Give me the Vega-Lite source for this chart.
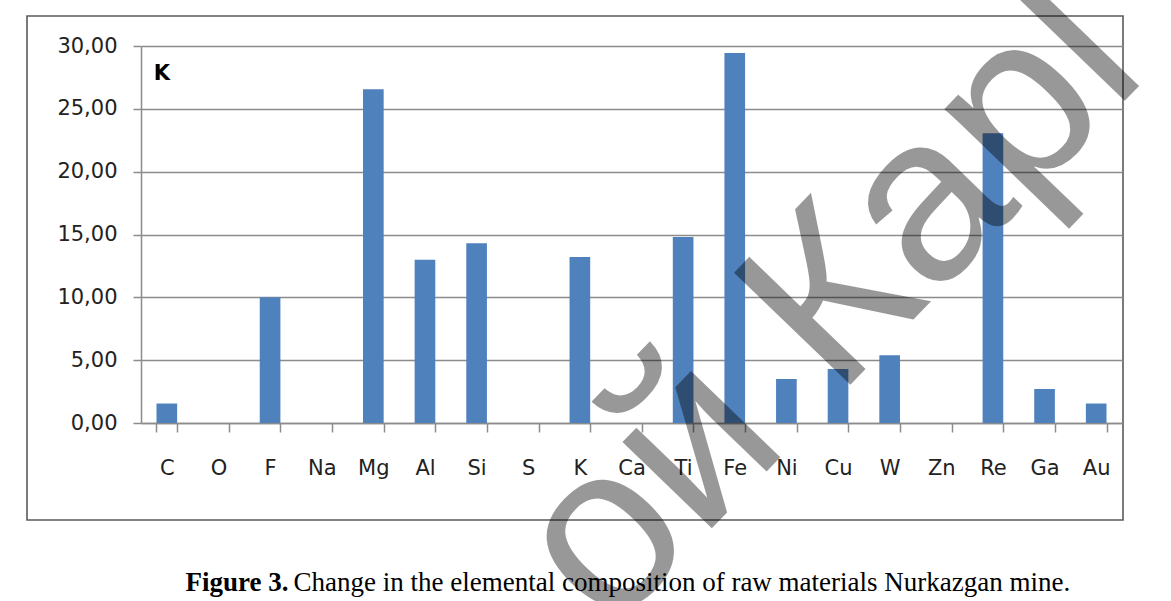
{
  "$schema": "https://vega.github.io/schema/vega-lite/v6.json",
  "width": 1096,
  "height": 504,
  "autosize": {"type": "none"},
  "padding": {"left": 27, "top": 16, "right": 48, "bottom": 81},
  "background": "white",
  "config": {"view": {"stroke": "#5a5a5a", "strokeWidth": 1.6}},
  "layer": [
    {
      "data": {
        "values": [
          {"el": "C", "v": 1.55},
          {"el": "O", "v": 0},
          {"el": "F", "v": 10.0},
          {"el": "Na", "v": 0},
          {"el": "Mg", "v": 26.55},
          {"el": "Al", "v": 13.0},
          {"el": "Si", "v": 14.3},
          {"el": "S", "v": 0},
          {"el": "K", "v": 13.2},
          {"el": "Ca", "v": 0},
          {"el": "Ti", "v": 14.8},
          {"el": "Fe", "v": 29.45},
          {"el": "Ni", "v": 3.5},
          {"el": "Cu", "v": 4.3},
          {"el": "W", "v": 5.4},
          {"el": "Zn", "v": 0},
          {"el": "Re", "v": 23.05},
          {"el": "Ga", "v": 2.7},
          {"el": "Au", "v": 1.55}
        ]
      },
      "mark": {"type": "bar", "color": "#4F81BD"},
      "encoding": {
        "x": {
          "field": "el",
          "type": "nominal",
          "sort": null,
          "scale": {
            "domain": ["C", "O", "F", "Na", "Mg", "Al", "Si", "S", "K", "Ca", "Ti", "Fe", "Ni", "Cu", "W", "Zn", "Re", "Ga", "Au"],
            "range": [114, 1095],
            "paddingInner": 0.6,
            "paddingOuter": 0.3
          },
          "axis": {
            "orient": "bottom",
            "offset": -97,
            "domain": true,
            "domainColor": "#8c8c8c",
            "domainWidth": 1.5,
            "ticks": true,
            "tickBand": "extent",
            "tickSize": 9,
            "tickColor": "#8c8c8c",
            "tickWidth": 1.5,
            "grid": false,
            "labelAngle": 0,
            "labelFont": "DejaVu Sans",
            "labelFontSize": 21,
            "labelColor": "#222222",
            "labelBaseline": "alphabetic",
            "labelPadding": 42,
            "title": "Change in the elemental composition of raw materials Nurkazgan mine.",
            "titleFont": "Liberation Serif",
            "titleFontSize": 27,
            "titleFontWeight": "normal",
            "titleColor": "#000000",
            "titleAlign": "left",
            "titleBaseline": "alphabetic",
            "titleX": 266,
            "titleY": 167
          }
        },
        "y": {
          "field": "v",
          "type": "quantitative",
          "scale": {"domain": [0, 30], "range": [407, 30], "nice": false},
          "axis": {
            "orient": "left",
            "offset": -114,
            "values": [0, 5, 10, 15, 20, 25, 30],
            "domain": true,
            "domainColor": "#8c8c8c",
            "domainWidth": 1.5,
            "ticks": true,
            "tickSize": 8,
            "tickColor": "#8c8c8c",
            "tickWidth": 1.5,
            "grid": true,
            "gridColor": "#8c8c8c",
            "gridWidth": 1.5,
            "labelFont": "DejaVu Sans",
            "labelFontSize": 21,
            "labelColor": "#222222",
            "labelPadding": 16,
            "labelExpr": "replace(format(datum.value, '.2f'), '.', ',')",
            "title": "Figure 3.",
            "titleFont": "Liberation Serif",
            "titleFontSize": 27,
            "titleFontWeight": "bold",
            "titleColor": "#000000",
            "titleAngle": 0,
            "titleAlign": "left",
            "titleBaseline": "alphabetic",
            "titleX": 44,
            "titleY": 574
          }
        }
      }
    },
    {
      "data": {"values": [{"t": "K"}]},
      "mark": {"type": "text", "font": "DejaVu Sans", "fontSize": 21, "fontWeight": "bold", "align": "center", "baseline": "alphabetic", "dx": -5, "color": "#000000"},
      "encoding": {
        "x": {"datum": "C", "type": "nominal"},
        "y": {"datum": 27.3, "type": "quantitative"},
        "text": {"field": "t", "type": "nominal"}
      }
    },
    {
      "data": {"values": [{"t": "ой Карl"}]},
      "mark": {"type": "text", "font": "Liberation Sans", "fontSize": 235, "align": "right", "baseline": "alphabetic", "angle": 314, "dx": 62, "dy": 15, "color": "#000000", "opacity": 0.4},
      "encoding": {
        "x": {"datum": "Au", "type": "nominal"},
        "y": {"datum": 25, "type": "quantitative"},
        "text": {"field": "t", "type": "nominal"}
      }
    }
  ]
}
